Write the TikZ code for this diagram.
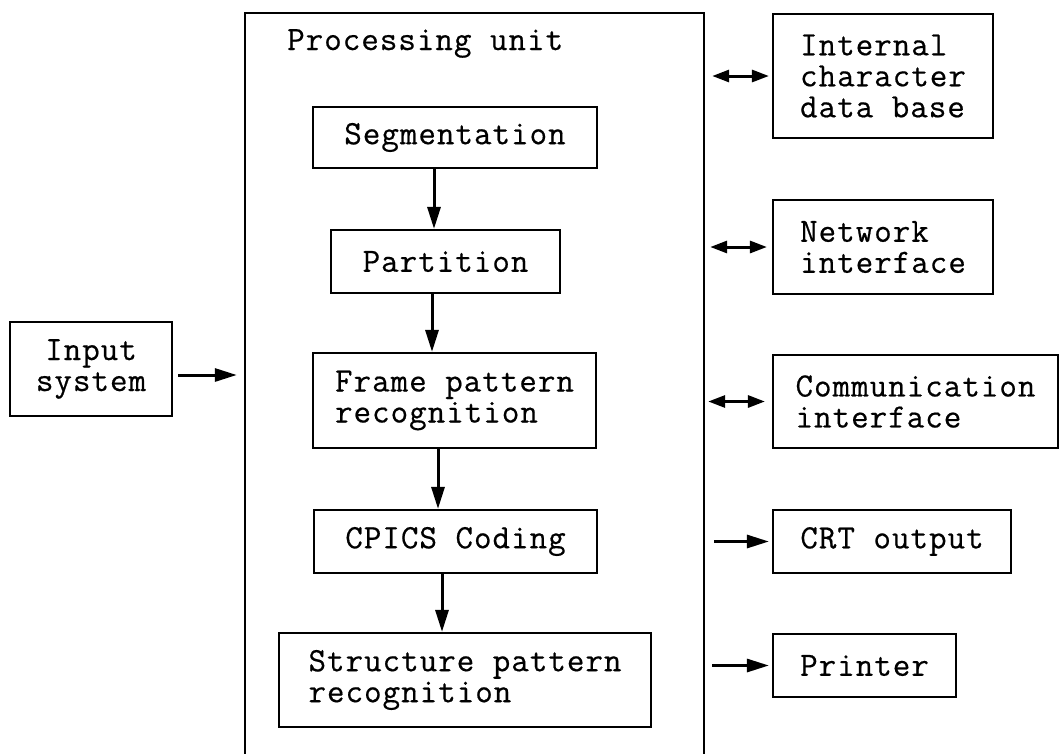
\documentclass[tikz,border=0pt]{standalone}
\usepackage{fontspec}
\setmonofont{Latin Modern Mono}[LetterSpace=3, FakeBold=0.5]
\usetikzlibrary{arrows.meta}
\tikzset{
  txt/.style={font=\ttfamily\fontsize{34}{31}\selectfont},
  box/.style={draw, line width=2.2pt, inner sep=0pt, align=left, txt},
  arr/.style={line width=3pt, -{Triangle[length=22pt,width=13pt]}},
  darr/.style={line width=3pt, {Triangle[length=17pt,width=12pt]}-{Triangle[length=17pt,width=12pt]}},
  lbl/.style={inner sep=0pt, txt}
}
\begin{document}
\begin{tikzpicture}[x=1pt,y=-1pt]
\useasboundingbox (0,0) rectangle (1063,753);
% container
\node[inner sep=0pt, minimum width=459pt, minimum height=747pt] (pu) at (474.5,386.5) {};
\draw[line width=2.2pt] (pu.south west) |- (pu.north east) -- (pu.south east);
\node[lbl, anchor=base west] (putitle) at (287,50) {Processing unit};
% inner boxes
\node[box, minimum width=284pt, minimum height=61pt] (seg) at (455,137.5) {Segmentation};
\node[box, minimum width=229pt, minimum height=63pt] (part) at (445.5,261.5) {Partition};
\node[box, minimum width=283pt, minimum height=95pt] (frame) at (454.5,400.5) {Frame pattern\\recognition};
\node[box, minimum width=283pt, minimum height=63pt] (cpics) at (455.5,541.5) {CPICS Coding};
\node[box, minimum width=372pt, minimum height=94pt] (struct) at (465,680) {Structure pattern\\recognition};
% left box
\node[box, align=center, minimum width=162pt, minimum height=94pt] (inp) at (91,369) {Input\\system};
% right boxes
\node[box, minimum width=220pt, minimum height=124pt] (int) at (883,76) {Internal\\character\\data base};
\node[box, minimum width=220pt, minimum height=94pt] (net) at (883,247) {Network\\interface};
\node[box, minimum width=285pt, minimum height=93pt] (comm) at (915.5,401.5) {Communication\\interface};
\node[box, minimum width=238pt, minimum height=63pt] (crt) at (892,541.5) {CRT output};
\node[box, minimum width=183pt, minimum height=63pt] (prn) at (864.5,665.5) {Printer};
% vertical arrows
\draw[arr] ([xshift=-21pt]seg.south) -- ([xshift=-21pt]seg.south |- part.north);
\draw[arr] ([xshift=-13.5pt]part.south) -- ([xshift=-13.5pt]part.south |- frame.north);
\draw[arr] ([xshift=-16.5pt]frame.south) -- ([xshift=-16.5pt]frame.south |- cpics.north);
\draw[arr] ([xshift=-13.5pt]cpics.south) -- ([xshift=-13.5pt]cpics.south |- struct.north);
% input arrow
\coordinate (ia) at ([xshift=5pt,yshift=-6pt]inp.east);
\draw[arr] (ia) -- ([xshift=-8pt]pu.west |- ia);
% right arrows
\draw[darr] ([xshift=8pt]pu.east |- int.west) -- ([xshift=-3pt]int.west);
\draw[darr] ([xshift=6pt]pu.east |- net.west) -- ([xshift=-5pt]net.west);
\draw[darr] ([xshift=4pt]pu.east |- comm.west) -- ([xshift=-7pt]comm.west);
\draw[arr] ([xshift=10pt]pu.east |- crt.west) -- ([xshift=-3pt]crt.west);
\draw[arr] ([xshift=8pt]pu.east |- prn.west) -- ([xshift=-3pt]prn.west);
\end{tikzpicture}
\end{document}
